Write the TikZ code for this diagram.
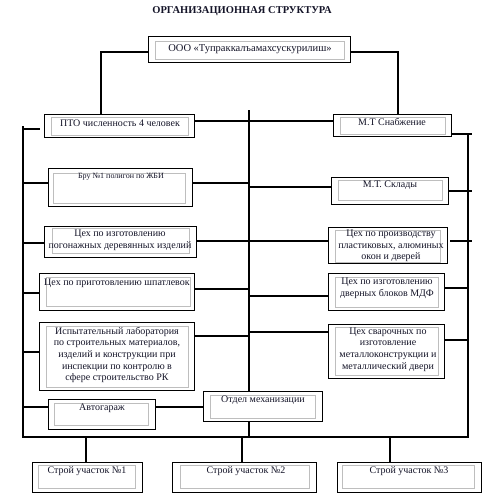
\documentclass[tikz,border=0pt]{standalone}
\usepackage{fontspec}
\setmainfont{Liberation Serif}
\usetikzlibrary{backgrounds}
\definecolor{txt}{RGB}{20,20,40}
\definecolor{ingray}{RGB}{190,190,190}
\tikzset{
  obox/.style={draw=black, line width=1pt, fill=white, inner sep=0pt, anchor=north west},
  ibox/.style={draw=ingray, line width=0.9pt, inner sep=0pt, anchor=north west},
  conn/.style={line width=2.8pt, draw=black},
  lbl/.style={font=\fontsize{10}{11.6}\selectfont, align=center, inner sep=0pt, text=txt},
  slbl/.style={font=\fontsize{8}{9}\selectfont, align=center, inner sep=0pt, text=txt},
}
\newcommand\mkbox[9]{%
  \node[obox, minimum width={(#4-#2)*1pt}, minimum height={(#5-#3)*1pt}] (#1) at (#2,#3) {};
  \node[ibox, minimum width={(#8-#6)*1pt}, minimum height={(#9-#7)*1pt}] (#1-in) at (#6,#7) {};
}
\begin{document}
\begin{tikzpicture}[x=1pt, y=-1pt]
\useasboundingbox (0,0) rectangle (495,501);

\node[font=\fontsize{10.5}{12}\selectfont\bfseries, text=txt, inner sep=0pt] (title) at (242,11) {ОРГАНИЗАЦИОННАЯ СТРУКТУРА};

% boxes
\mkbox{top}{148}{36}{350}{62}{155}{41}{344}{59}
\mkbox{pto}{44}{114}{194}{137}{51}{117}{188}{135}
\mkbox{mt}{333}{114}{451}{136}{340}{117}{445}{134}
\mkbox{bru}{48}{168}{192}{206}{53}{173}{185}{203}
\mkbox{pogon}{44}{226}{196}{257}{52}{228}{189}{253}
\mkbox{shpat}{39}{273}{194}{310}{46}{277}{190}{306}
\mkbox{lab}{39}{322}{194}{390}{46}{326}{188}{387}
\mkbox{avto}{48}{399}{155}{429}{54}{403}{148}{425}
\mkbox{otdel}{203}{391}{322}{421}{210}{395}{315}{418}
\mkbox{sklady}{331}{177}{448}{204}{338}{180}{442}{200}
\mkbox{plast}{328}{227}{447}{263}{335}{230}{440}{262}
\mkbox{mdf}{328}{273}{444}{310}{335}{277}{438}{307}
\mkbox{svar}{328}{324}{444}{378}{335}{327}{438}{375}
\mkbox{sa}{32}{462}{142}{492}{38}{465}{135}{488}
\mkbox{sb}{172}{462}{316}{492}{180}{465}{309}{488}
\mkbox{sc}{337}{462}{481}{492}{342}{465}{474}{488}

% texts
\node[lbl, font=\fontsize{10.5}{12}\selectfont] (top-t) at (250,49) {ООО «Тупраккалъамахсускурилиш»};
\node[lbl] (pto-t) at (120,123) {ПТО численность 4 человек};
\node[lbl] (mt-t) at (392,122) {М.Т Снабжение};
\node[slbl] (bru-t) at (121,177) {Бру №1 полигон по ЖБИ};
\node[lbl] (pogon-t) at (120,240.5) {Цех по изготовлению\\погонажных деревянных изделий};
\node[lbl] (shpat-t) at (117,283) {Цех по приготовлению шпатлевок};
\node[lbl] (lab-t) at (117,355) {Испытательный лаборатория\\по строительных материалов,\\изделий и конструкции при\\инспекции по контролю в\\сфере строительство РК};
\node[lbl] (avto-t) at (102,408) {Автогараж};
\node[lbl] (otdel-t) at (263,400) {Отдел механизации};
\node[lbl] (sklady-t) at (390,185) {М.Т. Склады};
\node[lbl] (plast-t) at (391,246) {Цех по производству\\пластиковых, алюминых\\окон и дверей};
\node[lbl] (mdf-t) at (387,288) {Цех по изготовлению\\дверных блоков МДФ};
\node[lbl] (svar-t) at (388,349.5) {Цех сварочных по\\изготовление\\металлоконструкции и\\металлический двери};
\node[lbl] (sa-t) at (87,471) {Строй участок №1};
\node[lbl] (sb-t) at (246,471) {Строй участок №2};
\node[lbl] (sc-t) at (409,471) {Строй участок №3};

% connectors
\coordinate (Lt) at (23,126);
\coordinate (Lb) at (23,437);
\coordinate (Rb) at (468,437);
\coordinate (Rt) at (468,133);
\coordinate (Ct) at (249,110);
\coordinate (Cb) at (249,437);
\begin{scope}[on background layer]
\draw[conn] (top.west |- 0,52) -| (pto.north -| 101,0);
\draw[conn] (top.east |- 0,52) -| (mt.north -| 398,0);
\draw[conn] (pto.east |- 0,121) -- (mt.west |- 0,121);
\draw[conn] (Ct) -- (Cb);
\draw[conn] (Lt) -- (Lb) -- (Rb) -- (Rt);
% left stubs
\draw[conn] (Lt |- 0,129) -- (40,129);
\draw[conn] (Lt |- 0,183) -- (bru.west |- 0,183);
\draw[conn] (Lt |- 0,243) -- (pogon.west |- 0,243);
\draw[conn] (Lt |- 0,293) -- (shpat.west |- 0,293);
\draw[conn] (Lt |- 0,352) -- (lab.west |- 0,352);
\draw[conn] (Lt |- 0,407) -- (avto.west |- 0,407);
% left boxes to centre
\draw[conn] (bru.east |- 0,183) -- (Ct |- 0,183);
\draw[conn] (pogon.east |- 0,241) -- (Ct |- 0,241);
\draw[conn] (shpat.east |- 0,289) -- (Ct |- 0,289);
\draw[conn] (lab.east |- 0,336) -- (Ct |- 0,336);
\draw[conn] (avto.east |- 0,407) -- (otdel.west |- 0,407);
% right boxes to centre
\draw[conn] (Ct |- 0,187) -- (sklady.west |- 0,187);
\draw[conn] (Ct |- 0,241) -- (plast.west |- 0,241);
\draw[conn] (Ct |- 0,296) -- (mdf.west |- 0,296);
\draw[conn] (Ct |- 0,332) -- (svar.west |- 0,332);
% right stubs
\draw[conn] (mt.east |- 0,134) -- (472,134);
\draw[conn] (sklady.east |- 0,191) -- (472,191);
\draw[conn] (450,241) -- (472,241);
\draw[conn] (mdf.east |- 0,288) -- (Rt |- 0,288);
\draw[conn] (svar.east |- 0,340) -- (Rt |- 0,340);
% bottom
\draw[conn] (Lb -| 86,0) -- (sa.north -| 86,0);
\draw[conn] (Lb -| 242,0) -- (sb.north -| 242,0);
\draw[conn] (Lb -| 390,0) -- (sc.north -| 390,0);
\end{scope}
\end{tikzpicture}
\end{document}
